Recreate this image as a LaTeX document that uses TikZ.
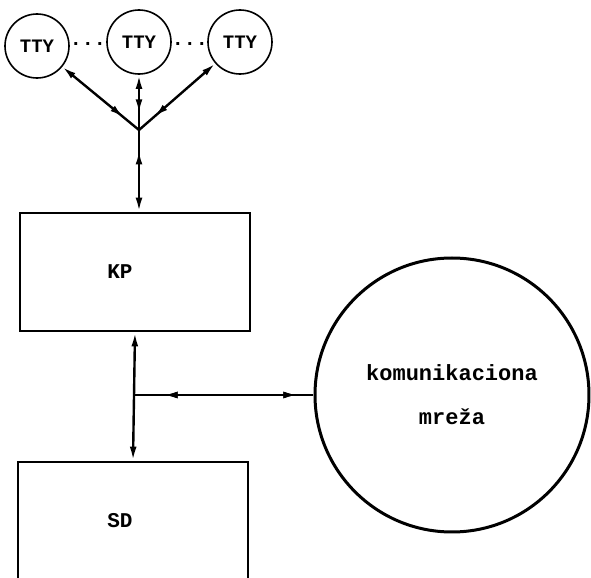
\documentclass[tikz,border=0pt]{standalone}
\usepackage{fontspec}
\setmonofont{Liberation Mono}
\usetikzlibrary{shapes.geometric, positioning, arrows.meta, calc, decorations.markings}

\begin{document}
\begin{tikzpicture}[
    x=0.5pt,y=-0.5pt,
    >={Latex[length=7pt,width=3.4pt]},
    block/.style={draw, rectangle, line width=1.3pt, minimum width=115pt, minimum height=59pt, font=\ttfamily\bfseries\fontsize{10.5}{12}\selectfont},
    terminal/.style={draw, circle, line width=0.8pt, minimum size=32pt, inner sep=0pt, font=\ttfamily\bfseries\fontsize{9.5}{11}\selectfont},
    network/.style={draw, circle, line width=1.5pt, minimum size=137pt, align=center, font=\ttfamily\bfseries\fontsize{11}{12}\selectfont},
    link/.style={line width=1.2pt},
    midarrow/.style={postaction={decorate}, decoration={markings, mark=at position #1 with {\arrow{>}}}},
    midback/.style={postaction={decorate}, decoration={markings, mark=at position #1 with {\arrowreversed{>}}}}
]
    \useasboundingbox (0,0) rectangle (591,578);

    % --- Terminals ---
    \node[terminal] (tty1) at (37,46) {TTY};
    \node[terminal] (tty2) at (139,42) {TTY};
    \node[terminal] (tty3) at (240,42) {TTY};
    \node[font=\ttfamily\bfseries] (dots1) at (88,44) {...};
    \node[font=\ttfamily\bfseries] (dots2) at (190,44) {...};

    % --- Blocks ---
    \node[block] (KP) at (135,272) {KP\kern15pt};
    \node[block] (SD) at (133,521) {SD\kern13pt};
    \node[network] (NET) at (452,395) {komunikaciona\\[10pt]mre\v{z}a};

    % --- Junctions ---
    \coordinate (J) at (139,130);
    \coordinate (B) at (KP.south |- NET.west);

    % --- Connections ---
    \draw[link, <-, midarrow=0.8] (tty1) -- (J);
    \draw[link, <-, midarrow=0.7] (tty2) -- (J);
    \draw[link, <-, midarrow=0.8] (tty3) -- (J);
    \draw[link, ->, midback=0.25] (J) -- (J |- KP.north);

    \draw[link, <->] (KP.south) -- (SD.north);
    \draw[link, midback=0.16, midarrow=0.91] (B) -- (NET.west);

\end{tikzpicture}
\end{document}
